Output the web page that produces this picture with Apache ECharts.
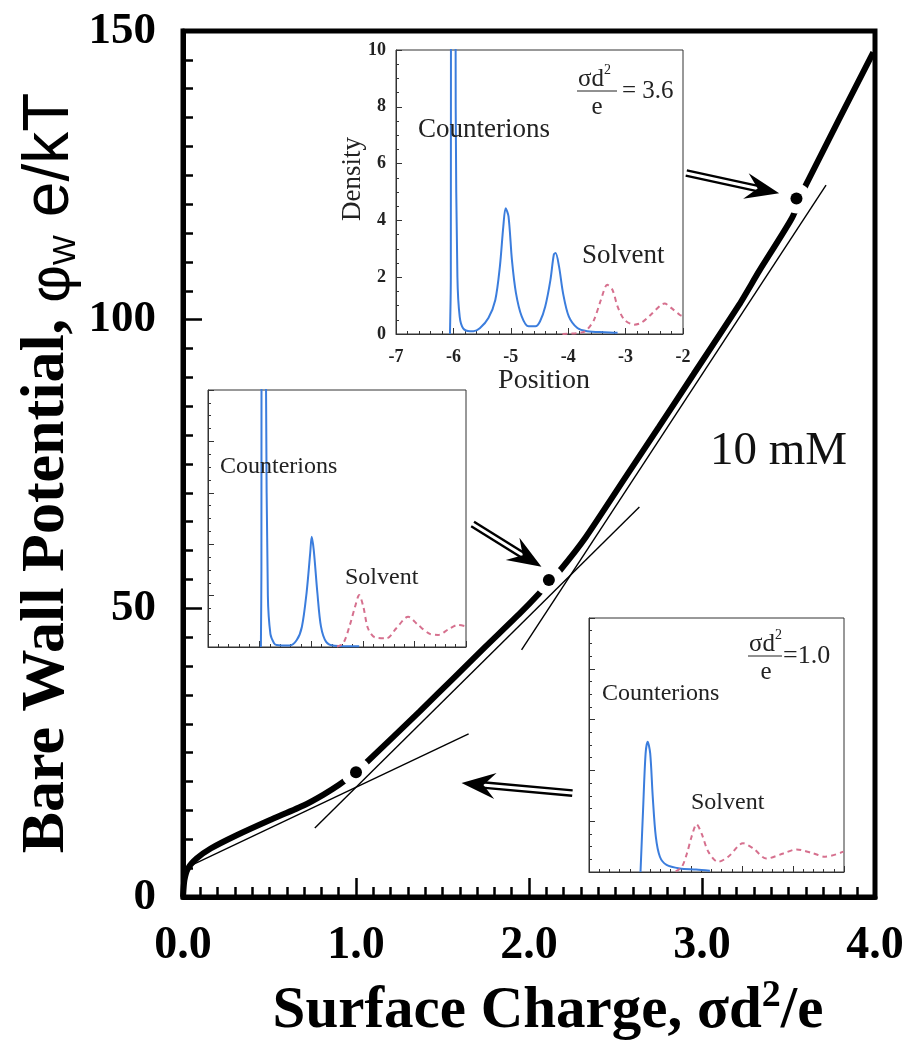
<!DOCTYPE html>
<html>
<head>
<meta charset="utf-8">
<script src="https://cdn.jsdelivr.net/npm/echarts@6/dist/echarts.min.js"></script>
<style>
html, body { margin: 0; padding: 0; background: #fff; }
#chart { width: 919px; height: 1046px; }
</style>
</head>
<body>
<div id="chart"></div>
<script>
// main curve: bare wall potential vs surface charge (10 mM)
const charge = [0, 0.008, 0.03, 0.08, 0.16, 0.31, 0.5, 0.7, 0.81, 0.9, 1.0, 1.06, 1.37, 1.56, 1.75, 1.95, 2.05, 2.11, 2.18, 2.33, 2.56, 2.75, 2.95, 3.215, 3.33, 3.52, 3.6, 3.99];
const potential = [0, 2.9, 5.0, 6.7, 8.4, 10.7, 13.3, 15.9, 17.7, 19.4, 21.6, 23.3, 32.2, 37.8, 43.4, 49.2, 52.3, 54.4, 56.6, 62.4, 72.8, 81.4, 90.5, 102.6, 108.4, 117.6, 123.3, 146.3];

// straight fits drawn next to the curve
const fitLow = [[-0.058, 3.98], [1.651, 28.24]];
const fitMid = [[0.762, 11.95], [2.638, 67.56]];
const fitHigh = [[1.957, 42.79], [3.717, 123.3]];

// marked states and the arrows that point at them
const markCharge = [1.0, 2.115, 3.546];
const markPotential = [21.6, 54.9, 121.0];
const arrowFrom = [[2.909, 125.4], [1.674, 64.6], [2.251, 18.0]];
const arrowTo = [[3.446, 121.9], [2.072, 57.2], [1.610, 19.75]];

// density profiles (position, density)
const ionsHigh = [[-6.06, 0], [-6.045, 2], [-6.035, 30], [-5.975, 30], [-5.96, 8], [-5.93, 2], [-5.89, 0.6], [-5.83, 0.2], [-5.71, 0.1], [-5.65, 0.1], [-5.54, 0.2], [-5.39, 0.56], [-5.27, 1.2], [-5.19, 2.38], [-5.13, 3.8], [-5.09, 4.43], [-5.04, 4.14], [-4.98, 2.6], [-4.91, 1.44], [-4.81, 0.62], [-4.69, 0.27], [-4.57, 0.27], [-4.49, 0.45], [-4.40, 0.97], [-4.31, 1.9], [-4.25, 2.8], [-4.22, 2.85], [-4.16, 2.38], [-4.09, 1.44], [-3.99, 0.62], [-3.84, 0.21], [-3.67, 0.1], [-3.37, 0.06], [-3.14, 0.04]];
const solventHigh = [[-4.1, 0], [-3.85, 0.03], [-3.72, 0.08], [-3.67, 0.15], [-3.55, 0.5], [-3.43, 1.2], [-3.32, 1.73], [-3.23, 1.56], [-3.14, 0.97], [-3.02, 0.5], [-2.85, 0.33], [-2.73, 0.39], [-2.56, 0.68], [-2.38, 1.03], [-2.32, 1.07], [-2.2, 0.91], [-2.06, 0.68], [-2.0, 0.62]];
const ionsMid = [[-5.975, 0], [-5.965, 3], [-5.955, 30], [-5.9, 30], [-5.875, 10], [-5.84, 2], [-5.79, 0.5], [-5.72, 0.15], [-5.67, 0.08], [-5.42, 0.06], [-5.28, 0.27], [-5.18, 0.79], [-5.09, 2.1], [-5.02, 3.64], [-4.99, 4.29], [-4.95, 3.76], [-4.88, 2.1], [-4.81, 0.79], [-4.71, 0.2], [-4.55, 0.05], [-4.07, 0.03]];
const solventMid = [[-4.5, 0.02], [-4.38, 0.14], [-4.25, 0.86], [-4.15, 1.57], [-4.07, 2.02], [-3.99, 1.57], [-3.9, 0.73], [-3.77, 0.38], [-3.54, 0.34], [-3.35, 0.73], [-3.12, 1.18], [-2.93, 0.86], [-2.7, 0.51], [-2.54, 0.47], [-2.34, 0.69], [-2.15, 0.86], [-2.0, 0.8]];
const ionsLow = [[-5.99, 0], [-5.94, 2.44], [-5.89, 4.67], [-5.85, 5.13], [-5.80, 4.67], [-5.75, 2.96], [-5.69, 1.39], [-5.61, 0.6], [-5.48, 0.28], [-5.22, 0.14], [-4.9, 0.1], [-4.63, 0.05]];
const solventLow = [[-5.3, 0.02], [-5.18, 0.2], [-5.08, 0.73], [-4.99, 1.38], [-4.89, 1.88], [-4.79, 1.5], [-4.66, 0.8], [-4.47, 0.4], [-4.27, 0.6], [-3.98, 1.13], [-3.78, 0.93], [-3.52, 0.53], [-3.19, 0.73], [-2.93, 0.89], [-2.6, 0.73], [-2.37, 0.6], [-2.01, 0.8]];

const serif = "'Liberation Serif','Times New Roman',serif";
const sans = "'Liberation Sans',Arial,sans-serif";
const BLUE = '#3b7ddd';
const PINK = '#d6708e';

const chart = echarts.init(document.getElementById('chart'));

// inset axes share one look
function insetX(idx, labels) {
  return {
    gridIndex: idx, type: 'value', min: -7, max: -2, interval: 1,
    axisLine: { lineStyle: { color: '#333', width: 1 } },
    axisTick: { inside: true, length: 6, lineStyle: { color: '#333', width: 1 } },
    minorTick: { show: true, splitNumber: 5, length: 3, lineStyle: { color: '#333', width: 1 } },
    splitLine: { show: false },
    axisLabel: { show: labels, fontFamily: serif, fontWeight: 'bold', fontSize: 18, color: '#222', margin: 14 }
  };
}
function insetY(idx, labels) {
  return {
    gridIndex: idx, type: 'value', min: 0, max: 10, interval: 2,
    axisLine: { lineStyle: { color: '#333', width: 1 } },
    axisTick: { inside: true, length: 6, lineStyle: { color: '#333', width: 1 } },
    minorTick: { show: true, splitNumber: 4, length: 3, lineStyle: { color: '#333', width: 1 } },
    splitLine: { show: false },
    axisLabel: { show: labels, fontFamily: serif, fontWeight: 'bold', fontSize: 18, color: '#222', margin: 10 }
  };
}
function profile(idx, data, color, dashed) {
  return {
    type: 'line', xAxisIndex: idx, yAxisIndex: idx, data: data,
    showSymbol: false, smooth: 0.3, clip: true, z: 3,
    lineStyle: { color: color, width: 2, type: dashed ? [5, 4] : 'solid' }
  };
}

function renderArrow(params, api) {
  const a = api.coord([api.value(0), api.value(1)]);
  const b = api.coord([api.value(2), api.value(3)]);
  const dx = b[0] - a[0], dy = b[1] - a[1];
  const len = Math.hypot(dx, dy);
  const ux = dx / len, uy = dy / len, nx = -uy, ny = ux;
  const head = 34, half = 13, notch = 12, gap = 2.7;
  const ex = b[0] - ux * (head - notch - 1), ey = b[1] - uy * (head - notch - 1);
  const shaft = s => ({
    type: 'line',
    shape: { x1: a[0] + nx * s, y1: a[1] + ny * s, x2: ex + nx * s, y2: ey + ny * s },
    style: { stroke: '#000', lineWidth: 2.4 }
  });
  return {
    type: 'group',
    children: [shaft(gap), shaft(-gap), {
      type: 'polygon',
      shape: { points: [
        [b[0], b[1]],
        [b[0] - ux * head + nx * half, b[1] - uy * head + ny * half],
        [b[0] - ux * (head - notch), b[1] - uy * (head - notch)],
        [b[0] - ux * head - nx * half, b[1] - uy * head - ny * half]
      ] },
      style: { fill: '#000' }
    }]
  };
}

const txt = (x, y, text, size, extra, rot) => ({
  type: 'text', x: x, y: y, z: 10, rotation: rot || 0,
  style: Object.assign({ text: text, fontFamily: serif, fontSize: size, fill: '#222', align: 'left', verticalAlign: 'middle' }, extra || {})
});

chart.setOption({
  animation: false,
  backgroundColor: '#fff',
  grid: [
    { left: 183, top: 31, right: 44, bottom: 149, show: true, borderWidth: 5, borderColor: '#000', outerBoundsMode: 'none' },
    { left: 396, top: 50, width: 287, height: 284, show: true, borderWidth: 1, borderColor: '#333', backgroundColor: '#fff', outerBoundsMode: 'none' },
    { left: 208, top: 390, width: 258, height: 257, show: true, borderWidth: 1, borderColor: '#333', backgroundColor: '#fff', outerBoundsMode: 'none' },
    { left: 589, top: 618, width: 255, height: 254, show: true, borderWidth: 1, borderColor: '#333', backgroundColor: '#fff', outerBoundsMode: 'none' }
  ],
  xAxis: [
    {
      gridIndex: 0, type: 'value', min: 0, max: 4, interval: 1,
      axisLine: { lineStyle: { color: '#000', width: 5 } },
      axisTick: { inside: true, length: 19, lineStyle: { color: '#000', width: 2.5 } },
      minorTick: { show: true, splitNumber: 10, length: 10, lineStyle: { color: '#000', width: 2.5 } },
      splitLine: { show: false },
      axisLabel: { fontFamily: serif, fontWeight: 'bold', fontSize: 46, color: '#000', margin: 26, formatter: v => v.toFixed(1) }
    },
    insetX(1, true), insetX(2, false), insetX(3, false)
  ],
  yAxis: [
    {
      gridIndex: 0, type: 'value', min: 0, max: 150, interval: 50,
      axisLine: { lineStyle: { color: '#000', width: 5 } },
      axisTick: { inside: true, length: 19, lineStyle: { color: '#000', width: 2.5 } },
      minorTick: { show: true, splitNumber: 10, length: 10, lineStyle: { color: '#000', width: 2.5 } },
      splitLine: { show: false },
      axisLabel: { fontFamily: serif, fontWeight: 'bold', fontSize: 45, color: '#000', margin: 27 }
    },
    insetY(1, true), insetY(2, false), insetY(3, false)
  ],
  series: [
    {
      type: 'line', data: charge.map((c, i) => [c, potential[i]]),
      showSymbol: false, smooth: 0.2, z: 2,
      lineStyle: { color: '#000', width: 6 }
    },
    {
      type: 'scatter', data: markCharge.map((c, i) => [c, markPotential[i]]),
      symbolSize: 30, itemStyle: { color: '#fff', opacity: 1 }, z: 3, silent: true
    },
    { type: 'line', data: fitLow, showSymbol: false, clip: false, z: 4, lineStyle: { color: '#000', width: 1.4 } },
    { type: 'line', data: fitMid, showSymbol: false, clip: false, z: 4, lineStyle: { color: '#000', width: 1.4 } },
    { type: 'line', data: fitHigh, showSymbol: false, clip: false, z: 4, lineStyle: { color: '#000', width: 1.4 } },
    {
      type: 'scatter', data: markCharge.map((c, i) => [c, markPotential[i]]),
      symbolSize: 12, itemStyle: { color: '#000', opacity: 1 }, z: 5
    },
    {
      type: 'custom', renderItem: renderArrow, clip: false, z: 6,
      data: arrowFrom.map((p, i) => [p[0], p[1], arrowTo[i][0], arrowTo[i][1]]),
      encode: { x: [0, 2], y: [1, 3] }
    },
    profile(1, ionsHigh, BLUE, false),
    profile(1, solventHigh, PINK, true),
    profile(2, ionsMid, BLUE, false),
    profile(2, solventMid, PINK, true),
    profile(3, ionsLow, BLUE, false),
    profile(3, solventLow, PINK, true)
  ],
  graphic: [
    {
      type: 'text', x: 548, y: 1012, z: 10,
      style: {
        text: '{m|Surface Charge, σd}{s|2}{m|/e}',
        align: 'center', verticalAlign: 'middle', fill: '#000',
        rich: {
          m: { fontFamily: serif, fontWeight: 'bold', fontSize: 59, lineHeight: 70 },
          s: { fontFamily: serif, fontWeight: 'bold', fontSize: 38, lineHeight: 42, verticalAlign: 'top' }
        }
      }
    },
    {
      type: 'text', x: 47, y: 473, rotation: Math.PI / 2, z: 10,
      style: {
        text: '{m|Bare Wall Potential,}{p| φ}{w|W}{k| e/kT}',
        align: 'center', verticalAlign: 'middle', fill: '#000',
        rich: {
          m: { fontFamily: serif, fontWeight: 'bold', fontSize: 62, lineHeight: 70 },
          p: { fontFamily: sans, fontSize: 58, lineHeight: 60, verticalAlign: 'bottom' },
          w: { fontFamily: sans, fontSize: 32, lineHeight: 8, verticalAlign: 'bottom' },
          k: { fontFamily: sans, fontSize: 64, lineHeight: 60, verticalAlign: 'bottom' }
        }
      }
    },
    txt(710, 452, '10 mM', 47, { fill: '#111' }),
    // inset A labels
    txt(353, 179, 'Density', 27, { align: 'center' }, Math.PI / 2),
    txt(544, 381, 'Position', 28, { align: 'center' }),
    txt(418, 130, 'Counterions', 27),
    txt(582, 256, 'Solvent', 27),
    txt(578, 79, 'σd', 25),
    txt(604, 70, '2', 14),
    { type: 'line', z: 10, shape: { x1: 577, y1: 91, x2: 617, y2: 91 }, style: { stroke: '#222', lineWidth: 1 } },
    txt(597, 107, 'e', 25, { align: 'center' }),
    txt(622, 91, '= 3.6', 25),
    // inset B labels
    txt(220, 467, 'Counterions', 24),
    txt(345, 578, 'Solvent', 24),
    // inset C labels
    txt(602, 694, 'Counterions', 24),
    txt(691, 803, 'Solvent', 24),
    txt(749, 644, 'σd', 25),
    txt(775, 635, '2', 14),
    { type: 'line', z: 10, shape: { x1: 748, y1: 656, x2: 782, y2: 656 }, style: { stroke: '#222', lineWidth: 1 } },
    txt(766, 672, 'e', 25, { align: 'center' }),
    txt(783, 656, '=1.0', 26)
  ]
});
</script>
</body>
</html>
